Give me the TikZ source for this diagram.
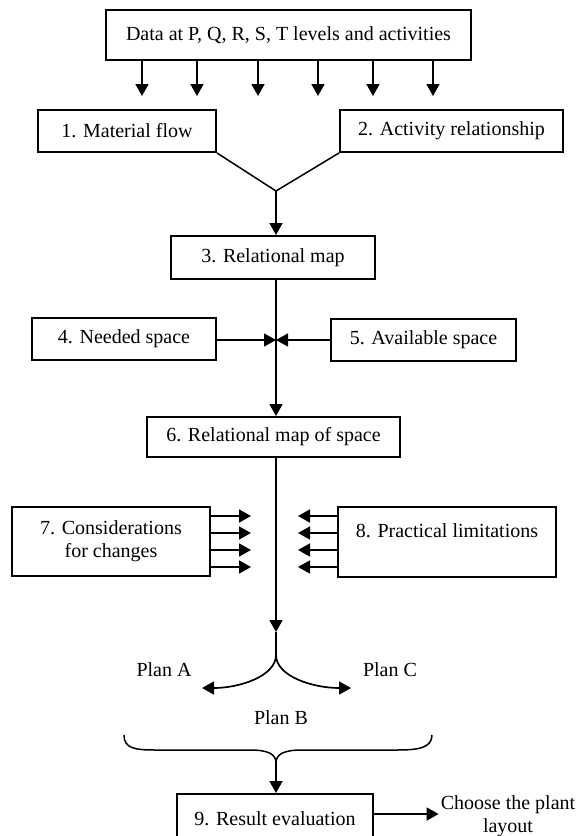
\documentclass[tikz,border=0pt]{standalone}
\usepackage{fontspec}
\setmainfont{Liberation Serif}
\usepackage{tikz}
\usetikzlibrary{positioning,arrows.meta}

\begin{document}
\begin{tikzpicture}[x=1pt,y=-1pt,font=\fontsize{20}{23}\selectfont]
\tikzstyle{stage}=[rectangle, draw=black, line width=2pt, inner sep=0pt, align=center]
\tikzstyle{plan}=[inner sep=2pt, align=center]
\tikzstyle{arr}=[-{Triangle[length=12pt,width=13pt]}, line width=1.7pt]
\tikzstyle{link}=[line width=1.5pt]
\clip (0,0) rectangle (579,836);

\node[stage, minimum width=365pt, minimum height=50pt] (data) at (288.5,35) {Data at P, Q, R, S, T levels and activities};
\node[stage, minimum width=178pt, minimum height=42pt] (mflow) at (127,131) {1. Material flow};
\node[stage, minimum width=223pt, minimum height=42pt] (actrel) at (451.5,131) {2. Activity relationship};
\node[stage, minimum width=204pt, minimum height=43pt] (relmap) at (273,257.5) {3. Relational map};
\node[stage, minimum width=184pt, minimum height=42pt] (need) at (124,339) {4. Needed space};
\node[stage, minimum width=185pt, minimum height=42pt] (avail) at (423.5,340) {5. Available space};
\node[stage, minimum width=253pt, minimum height=40pt] (spmap) at (273.5,437) {6. Relational map of space};
\node[stage, minimum width=198pt, minimum height=69pt] (consid) at (111,541.5) {7. Considerations\\for changes};
\node[stage, minimum width=218pt, minimum height=70pt] (limit) at (447,542) {8. Practical limitations\\\mbox{}};
\node[stage, minimum width=196pt, minimum height=50pt] (result) at (275,819) {9. Result evaluation};
\node[plan] (choose) at (508,816) {Choose the plant\\layout};

\node[plan] (planA) at (164,670) {Plan A};
\node[plan] (planC) at (390,670) {Plan C};
\node[plan] (planB) at (281,718) {Plan B};

% junctions on the middle line
\coordinate (j1) at (276,191);
\coordinate (j2) at (276,340);
\coordinate (ftip) at (276,632);
\coordinate (fork) at (276,655);
\coordinate (tipA) at (202,688);
\coordinate (tipC) at (351,688);
\coordinate (bl) at (124,735);
\coordinate (br) at (432,735);
\coordinate (cusp) at (276,763);

\foreach \x [count=\i] in {142,197,258,318,373,433}
	\coordinate (d\i) at (\x,96);
\foreach \i in {1,...,6}
	\draw[arr] (data.south -| d\i) -- (d\i);

\draw[link] (mflow.south east) -- (j1) -- (actrel.south west);
\draw[arr] (j1) -- (relmap.north -| j1);

\draw[arr] (relmap.south -| j2) -- (spmap.north -| j2);
\draw[arr] (need.east |- j2) -- (j2);
\draw[arr] (avail.west |- j2) -- (j2);

\foreach \y [count=\i] in {516,533,550,567}{
	\coordinate (c\i) at (251,\y);
	\coordinate (l\i) at (298,\y);
	\draw[arr] (consid.east |- c\i) -- (c\i);
	\draw[arr] (limit.west |- l\i) -- (l\i);
}

\draw[arr] (spmap.south -| ftip) -- (ftip);
\draw[link] (ftip) -- (fork);
\draw[arr] (fork) .. controls (276,676) and (240,688) .. (tipA);
\draw[arr] (fork) .. controls (276,676) and (312,688) .. (tipC);

\draw[link] (bl) .. controls (124,748) and (134,750) .. (155,750) -- (250,750)
	.. controls (268,750) and (276,754) .. (cusp)
	.. controls (276,754) and (284,750) .. (302,750) -- (397,750)
	.. controls (418,750) and (432,748) .. (br);
\draw[arr] (cusp) -- (result.north -| cusp);
\draw[arr] (result.east |- 0,814) -- (choose.west |- 0,814);
\end{tikzpicture}
\end{document}
